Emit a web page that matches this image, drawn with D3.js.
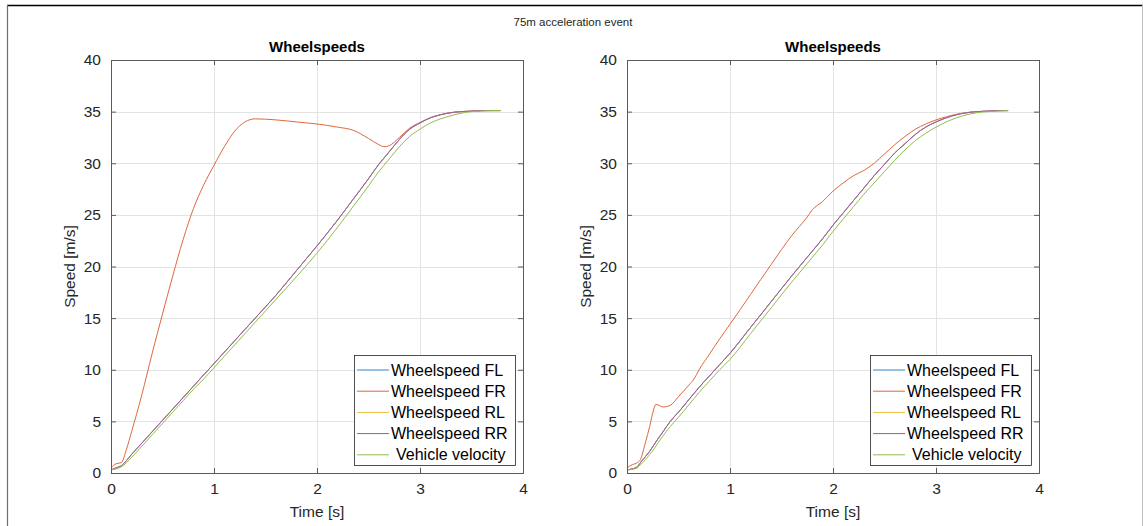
<!DOCTYPE html>
<html>
<head>
<meta charset="utf-8">
<script src="https://cdn.jsdelivr.net/npm/d3@7"></script>
<style>
  html, body { margin: 0; padding: 0; background: #fff; }
  svg { display: block; font-family: "Liberation Sans", Arial, sans-serif; }
</style>
</head>
<body>
<svg id="fig" width="1143" height="526"></svg>
<script>
// ---- Run 1 (left panel) ----
const timeA = [0, 0.05, 0.1, 0.15, 0.2, 0.3, 0.4, 0.5, 0.6, 0.7, 0.8, 0.9, 1.0, 1.1, 1.2, 1.3, 1.4, 1.6, 1.8, 2.0, 2.2, 2.35, 2.5, 2.6, 2.65, 2.7, 2.8, 2.9, 3.0, 3.1, 3.2, 3.3, 3.4, 3.5, 3.6, 3.7, 3.78];
const flA  = [0.3, 0.5, 0.7, 1.2, 1.8, 2.9, 4.0, 5.1, 6.2, 7.3, 8.4, 9.5, 10.6, 11.7, 12.8, 13.9, 15.0, 17.2, 19.6, 22.0, 24.5, 26.5, 28.5, 29.9, 30.5, 31.1, 32.3, 33.3, 33.9, 34.4, 34.7, 34.9, 35.0, 35.05, 35.1, 35.1, 35.1];
const frA  = [0.5, 0.9, 1.0, 2.3, 4.0, 7.6, 11.6, 15.4, 19.1, 22.6, 25.6, 27.9, 29.8, 31.6, 33.1, 34.0, 34.3, 34.2, 34.0, 33.8, 33.5, 33.2, 32.4, 31.8, 31.6, 31.7, 32.5, 33.4, 33.95, 34.4, 34.7, 34.9, 35.0, 35.05, 35.1, 35.1, 35.1];
const rlA  = [0.3, 0.5, 0.7, 1.2, 1.8, 2.9, 4.0, 5.1, 6.2, 7.3, 8.4, 9.5, 10.6, 11.7, 12.8, 13.9, 15.0, 17.2, 19.6, 22.0, 24.5, 26.5, 28.5, 29.9, 30.5, 31.1, 32.3, 33.3, 33.9, 34.4, 34.7, 34.9, 35.0, 35.05, 35.1, 35.1, 35.1];
const rrA  = [0.3, 0.5, 0.7, 1.2, 1.8, 2.9, 4.0, 5.1, 6.2, 7.3, 8.4, 9.5, 10.6, 11.7, 12.8, 13.9, 15.0, 17.2, 19.6, 22.0, 24.5, 26.5, 28.5, 29.9, 30.5, 31.1, 32.3, 33.3, 33.9, 34.4, 34.7, 34.9, 35.0, 35.05, 35.1, 35.1, 35.1];
const vehA = [0.3, 0.4, 0.6, 1.0, 1.5, 2.6, 3.7, 4.8, 5.9, 7.0, 8.1, 9.1, 10.2, 11.3, 12.4, 13.5, 14.6, 16.8, 19.0, 21.3, 23.8, 25.8, 27.8, 29.2, 29.8, 30.4, 31.6, 32.6, 33.3, 33.9, 34.3, 34.6, 34.85, 35.0, 35.05, 35.1, 35.1];

// ---- Run 2 (right panel) ----
const timeB = [0, 0.05, 0.1, 0.13, 0.18, 0.22, 0.26, 0.28, 0.3, 0.35, 0.42, 0.5, 0.6, 0.65, 0.7, 0.8, 0.9, 1.0, 1.2, 1.4, 1.6, 1.75, 1.8, 1.9, 2.0, 2.1, 2.2, 2.3, 2.4, 2.5, 2.6, 2.7, 2.8, 2.9, 3.0, 3.1, 3.2, 3.3, 3.4, 3.5, 3.6, 3.7];
const flB  = [0.3, 0.4, 0.6, 1.0, 1.6, 2.1, 2.7, 3.0, 3.3, 4.0, 5.0, 5.9, 7.1, 7.7, 8.3, 9.4, 10.5, 11.6, 14.1, 16.6, 19.1, 20.9, 21.5, 22.7, 24.0, 25.2, 26.4, 27.6, 28.8, 29.9, 31.0, 31.9, 32.8, 33.5, 34.0, 34.4, 34.7, 34.9, 35.0, 35.05, 35.1, 35.1];
const frB  = [0.5, 0.8, 1.0, 1.3, 3.0, 4.5, 6.2, 6.65, 6.6, 6.4, 6.55, 7.4, 8.5, 9.1, 10.0, 11.5, 13.0, 14.4, 17.3, 20.2, 23.0, 24.8, 25.5, 26.3, 27.3, 28.1, 28.8, 29.3, 30.0, 30.9, 31.8, 32.6, 33.3, 33.8, 34.2, 34.5, 34.75, 34.9, 35.0, 35.05, 35.1, 35.1];
const rlB  = [0.3, 0.4, 0.6, 1.0, 1.6, 2.1, 2.7, 3.0, 3.3, 4.0, 5.0, 5.9, 7.1, 7.7, 8.3, 9.4, 10.5, 11.6, 14.1, 16.6, 19.1, 20.9, 21.5, 22.7, 24.0, 25.2, 26.4, 27.6, 28.8, 29.9, 31.0, 31.9, 32.8, 33.5, 34.0, 34.4, 34.7, 34.9, 35.0, 35.05, 35.1, 35.1];
const rrB  = [0.3, 0.4, 0.6, 1.0, 1.6, 2.1, 2.7, 3.0, 3.3, 4.0, 5.0, 5.9, 7.1, 7.7, 8.3, 9.4, 10.5, 11.6, 14.1, 16.6, 19.1, 20.9, 21.5, 22.7, 24.0, 25.2, 26.4, 27.6, 28.8, 29.9, 31.0, 31.9, 32.8, 33.5, 34.0, 34.4, 34.7, 34.9, 35.0, 35.05, 35.1, 35.1];
const vehB = [0.3, 0.35, 0.5, 0.8, 1.3, 1.8, 2.3, 2.6, 2.9, 3.6, 4.5, 5.4, 6.6, 7.2, 7.8, 8.9, 10.0, 11.0, 13.5, 16.0, 18.5, 20.3, 20.9, 22.1, 23.4, 24.6, 25.8, 27.0, 28.1, 29.2, 30.3, 31.3, 32.2, 32.9, 33.5, 34.0, 34.4, 34.7, 34.9, 35.0, 35.05, 35.1];

const seriesNames = ["Wheelspeed FL", "Wheelspeed FR", "Wheelspeed RL", "Wheelspeed RR", "Vehicle velocity"];
const seriesColors = ["#2E86C8", "#E0683A", "#F0BE40", "#9A58AE", "#8DBF4A"];
const xTicks = [0, 1, 2, 3, 4];
const yTicks = [0, 5, 10, 15, 20, 25, 30, 35, 40];

const figTitle = "75m acceleration event";
const axTitle = "Wheelspeeds";
const xLabel = "Time [s]";
const yLabel = "Speed [m/s]";

const panels = [
  { left: 111, time: timeA, series: [flA, frA, rlA, rrA, vehA] },
  { left: 627, time: timeB, series: [flB, frB, rlB, rrB, vehB] }
];

const svg = d3.select("#fig");
const W = 1143, H = 526;
svg.append("rect").attr("width", W).attr("height", H).attr("fill", "#fff");

// figure frame
svg.append("line").attr("x1", 7).attr("x2", W).attr("y1", 5.5).attr("y2", 5.5)
  .attr("stroke", "#000").attr("stroke-width", 1.5);
svg.append("line").attr("x1", 7.5).attr("x2", 7.5).attr("y1", 5).attr("y2", H)
  .attr("stroke", "#6e6e6e").attr("stroke-width", 1.2);
svg.append("line").attr("x1", 1142.5).attr("x2", 1142.5).attr("y1", 5).attr("y2", H)
  .attr("stroke", "#c0c0c0").attr("stroke-width", 1);

svg.append("text").attr("x", 573).attr("y", 26).attr("text-anchor", "middle")
  .attr("font-size", 11.5).attr("fill", "#262626").text(figTitle);

const plotW = 412, plotTop = 60, plotBottom = 473;
const axisColor = "#5a5a5a";
const textColor = "#262626";

panels.forEach(p => {
  const x = d3.scaleLinear().domain([0, 4]).range([p.left, p.left + plotW]);
  const y = d3.scaleLinear().domain([0, 40]).range([plotBottom, plotTop]);
  const g = svg.append("g");

  // grid
  g.append("g").selectAll("line").data(xTicks.slice(1, -1)).join("line")
    .attr("x1", d => Math.round(x(d)) + 0.5).attr("x2", d => Math.round(x(d)) + 0.5)
    .attr("y1", plotTop).attr("y2", plotBottom)
    .attr("stroke", "#e3e3e3").attr("stroke-width", 1);
  g.append("g").selectAll("line").data(yTicks.slice(1, -1)).join("line")
    .attr("y1", d => Math.round(y(d)) + 0.5).attr("y2", d => Math.round(y(d)) + 0.5)
    .attr("x1", p.left).attr("x2", p.left + plotW)
    .attr("stroke", "#e3e3e3").attr("stroke-width", 1);

  // data lines
  const line = d3.line().curve(d3.curveMonotoneX);
  p.series.forEach((vals, i) => {
    const pts = p.time.map((t, k) => [x(t), y(vals[k])]);
    g.append("path").attr("d", line(pts)).attr("fill", "none")
      .attr("stroke", seriesColors[i]).attr("stroke-width", 1)
      .attr("stroke-linejoin", "round");
  });

  // axes (ticks inward, box on)
  const xAxisB = d3.axisBottom(x).tickValues(xTicks).tickSize(-5).tickPadding(10).tickFormat(d3.format("d"));
  const xAxisT = d3.axisTop(x).tickValues(xTicks).tickSize(-5).tickFormat("");
  const yAxisL = d3.axisLeft(y).tickValues(yTicks).tickSize(-5).tickPadding(10).tickFormat(d3.format("d"));
  const yAxisR = d3.axisRight(y).tickValues(yTicks).tickSize(-5).tickFormat("");

  const axes = [
    g.append("g").attr("transform", `translate(0,${plotBottom})`).call(xAxisB),
    g.append("g").attr("transform", `translate(0,${plotTop})`).call(xAxisT),
    g.append("g").attr("transform", `translate(${p.left},0)`).call(yAxisL),
    g.append("g").attr("transform", `translate(${p.left + plotW},0)`).call(yAxisR)
  ];
  axes.forEach(a => {
    a.select(".domain").attr("stroke", axisColor).attr("stroke-width", 1);
    a.selectAll(".tick line").attr("stroke", axisColor);
    a.selectAll("text").attr("font-size", 15.5).attr("fill", textColor)
      .attr("font-family", "'Liberation Sans', Arial, sans-serif");
  });

  // labels
  g.append("text").attr("x", p.left + plotW / 2).attr("y", 52).attr("text-anchor", "middle")
    .attr("font-size", 15).attr("font-weight", "bold").attr("fill", "#000").text(axTitle);
  g.append("text").attr("x", p.left + plotW / 2).attr("y", 517).attr("text-anchor", "middle")
    .attr("font-size", 15.5).attr("fill", textColor).text(xLabel);
  g.append("text").attr("transform", `translate(${p.left - 36},${(plotTop + plotBottom) / 2}) rotate(-90)`)
    .attr("text-anchor", "middle").attr("font-size", 15.5).attr("fill", textColor).text(yLabel);

  // legend
  const lx = p.left + 243, ly = 355, lw = 161, lh = 110;
  const lg = g.append("g").attr("transform", `translate(${lx},${ly})`);
  lg.append("rect").attr("x", 0.5).attr("y", 0.5).attr("width", lw).attr("height", lh)
    .attr("fill", "#fff").attr("stroke", "#262626").attr("stroke-width", 0.8);
  seriesNames.forEach((name, i) => {
    const yy = 15 + i * 21.2;
    lg.append("line").attr("x1", 3).attr("x2", 35).attr("y1", yy).attr("y2", yy)
      .attr("stroke", seriesColors[i]).attr("stroke-width", 1);
    lg.append("text").attr("x", i === 4 ? 42 : 37).attr("y", yy + 5.5)
      .attr("font-size", 16).attr("fill", "#000").text(name);
  });
});
</script>
</body>
</html>
